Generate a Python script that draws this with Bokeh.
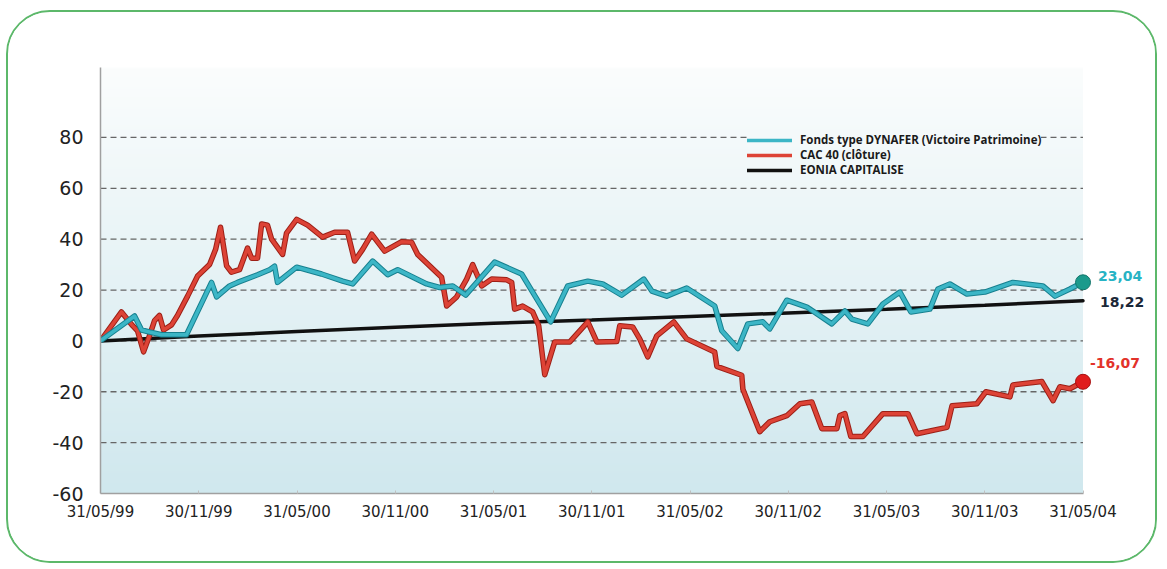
import numpy as np
from bokeh.plotting import figure
from bokeh.models import FixedTicker, Legend, LegendItem, Label, Range1d
from bokeh.embed import file_html
from bokeh.resources import INLINE

# ---- data (months since 31/05/99, values in %) ----
xtick_labels = ["31/05/99", "30/11/99", "31/05/00", "30/11/00", "31/05/01", "30/11/01",
                "31/05/02", "30/11/02", "31/05/03", "30/11/03", "31/05/04"]
xtick_pos = [0, 6, 12, 18, 24, 30, 36, 42, 48, 54, 60]
ytick_pos = [-60, -40, -20, 0, 20, 40, 60, 80]
ytick_labels = ["-60", "-40", "-20", "0", "20", "40", "60", "80"]
grid_pos = [-40, -20, 0, 20, 40, 60, 80]

dyn_x = [0.0, 2.08, 2.51, 2.99, 3.73, 5.25, 6.78, 7.09, 7.88, 8.37, 9.59, 10.33, 10.63, 10.81,
         11.98, 13.50, 14.79, 15.40, 16.62, 17.54, 18.15, 19.92, 20.71, 21.51, 22.30, 24.07,
         25.72, 26.39, 27.49, 28.53, 29.76, 30.67, 31.83, 33.18, 33.67, 34.58, 35.80, 37.51,
         37.94, 38.92, 39.53, 40.45, 40.87, 41.91, 43.14, 44.66, 45.46, 45.88, 46.86, 47.78,
         48.82, 49.49, 50.65, 51.14, 51.87, 52.91, 54.01, 55.72, 57.55, 58.29, 59.20, 60.0]
dyn_y = [0, 9.8, 4.3, 3.5, 2.4, 2.4, 23, 17.3, 21.6, 23, 26, 28, 29.4, 23,
         29, 26.3, 23.5, 22.4, 31.4, 26, 28, 22.4, 21, 21.6, 18, 31,
         26.3, 19.2, 7.5, 21.6, 23.5, 22.4, 18, 24.3, 19.6, 17.6, 20.8, 13.7,
         4, -3, 6.7, 7.5, 4.7, 16, 13.3, 6.7, 11.8, 8.6, 6.7, 14.5,
         19.2, 11.4, 12.5, 20.4, 22.4, 18.4, 19.2, 23, 21.6, 17.6, 20.4, 23.04]

cac_x = [0.0, 1.28, 1.96, 2.26, 2.63, 2.99, 3.30, 3.60, 3.85, 4.34, 4.70, 5.32, 5.93, 6.66,
         7.03, 7.33, 7.70, 8.00, 8.49, 8.98, 9.23, 9.59, 9.84, 10.20, 10.45, 11.12, 11.36,
         11.98, 12.65, 13.56, 14.30, 15.09, 15.52, 16.01, 16.56, 17.35, 18.39, 19.00, 19.37,
         20.83, 21.14, 21.75, 22.36, 22.73, 23.03, 23.28, 23.89, 24.81, 25.11, 25.29, 25.78,
         26.39, 26.76, 27.13, 27.74, 28.66, 29.76, 30.31, 31.53, 31.71, 32.50, 32.93, 33.42,
         33.97, 35.01, 35.80, 37.51, 37.64, 39.16, 39.23, 40.26, 40.87, 41.91, 42.71, 43.44,
         44.05, 44.97, 45.15, 45.46, 45.82, 46.56, 47.78, 49.31, 49.86, 51.69, 52.00, 53.52,
         54.07, 55.54, 55.72, 57.49, 58.17, 58.59, 59.20, 60.0]
cac_y = [0, 11.4, 6, 4, -4.3, 2, 8, 10, 4.3, 6.3, 10, 17.6, 25.5, 30,
         36, 44.7, 29.5, 27, 28, 36.5, 32.5, 32.5, 46, 45.5, 40, 34, 42.4,
         47.8, 45.5, 40.8, 42.7, 42.7, 31.4, 36, 42, 35.3, 39, 38.8, 34,
         25, 13.7, 17.3, 24.3, 30, 25.5, 21.6, 24.3, 24, 23, 12.5, 13.7,
         11.4, 6, -13.3, -0.4, -0.4, 7.5, -0.4, -0.2, 6, 5.5, 0.8, -6.3,
         2, 7.5, 0.8, -4.4, -10, -13.5, -19, -35.7, -31.8, -29.4, -24.7, -24,
         -34.5, -34.5, -29.4, -28.6, -37.6, -37.6, -28.6, -28.6, -36.5, -34, -25.5, -24.7,
         -20, -22, -17.3, -16, -23.5, -18, -18.8, -16.07]

eonia_x = [0, 6, 12, 18, 24, 30, 36, 42, 48, 54, 60]
eonia_y = [0, 1.9, 3.7, 5.4, 6.9, 8.2, 9.6, 11.0, 12.4, 14.0, 15.8]

series_names = ["Fonds type DYNAFER (Victoire Patrimoine)", "CAC 40 (clôture)", "EONIA CAPITALISE"]
end_labels = {"dyn": "23,04", "eonia": "18,22", "cac": "-16,07"}

TEAL = "#3cb6c6"
TEAL_DARK = "#17808f"
RED = "#dd4336"
RED_DARK = "#9c1f16"

p = figure(width=1151, height=553, output_backend="svg", toolbar_location=None,
           x_range=Range1d(0, 64), y_range=Range1d(-60, 107.5),
           min_border_left=92, min_border_right=11, min_border_top=55, min_border_bottom=72)
p.outline_line_color = None
p.border_fill_color = "white"
p.background_fill_color = "white"
p.xgrid.visible = False
p.ygrid.visible = False
p.styles = {"border": "2px solid #5cb86a", "border-radius": "44px", "overflow": "hidden",
            "box-sizing": "border-box", "margin": "10px 0 0 6px"}

# gradient background (style only)
n = 256
img = np.empty((n, 1), dtype=np.uint32)
view = img.view(dtype=np.uint8).reshape((n, 1, 4))
t = np.linspace(0, 1, n)  # 0 bottom -> 1 top
bottom = np.array([0xd0, 0xe8, 0xee])
top = np.array([0xfb, 0xfd, 0xfd])
for i in range(3):
    view[:, 0, i] = (bottom[i] + (top[i] - bottom[i]) * t).astype(np.uint8)
view[:, 0, 3] = 255
p.image_rgba(image=[img], x=0, y=-60, dw=60, dh=167.5)

# dashed grid lines
p.segment(x0=[0] * len(grid_pos), x1=[60] * len(grid_pos), y0=grid_pos, y1=grid_pos,
          line_color="#666666", line_dash="6 4", line_width=1.3)

# axes
p.xaxis.ticker = FixedTicker(ticks=xtick_pos)
p.xaxis.major_label_overrides = {k: v for k, v in zip(xtick_pos, xtick_labels)}
p.xaxis.bounds = (0, 60)
p.xaxis.axis_line_color = "#a0a0a0"
p.xaxis.axis_line_width = 1.5
p.xaxis.major_tick_in = 3
p.xaxis.major_tick_out = 0
p.xaxis.major_tick_line_color = "#c0c0c0"
p.xaxis.minor_tick_line_color = None
p.xaxis.major_label_text_font = "DejaVu Sans"
p.xaxis.major_label_text_font_size = "15px"
p.xaxis.major_label_text_color = "#222222"
p.xaxis.major_label_standoff = 9

p.yaxis.ticker = FixedTicker(ticks=ytick_pos)
p.yaxis.major_label_overrides = {k: v for k, v in zip(ytick_pos, ytick_labels)}
p.yaxis.bounds = (-60, 107.5)
p.yaxis.axis_line_color = "#a0a0a0"
p.yaxis.axis_line_width = 1.5
p.yaxis.major_tick_line_color = None
p.yaxis.minor_tick_line_color = None
p.yaxis.major_label_text_font = "DejaVu Sans"
p.yaxis.major_label_text_font_size = "19px"
p.yaxis.major_label_text_color = "#222222"
p.yaxis.major_label_standoff = 11

# series
r_eo = p.line(eonia_x, eonia_y, line_color="#111111", line_width=3.5, line_cap="round")
p.line(cac_x, cac_y, line_color=RED_DARK, line_width=5.5, line_join="round")
r_cac = p.line(cac_x, cac_y, line_color=RED, line_width=3.5, line_join="round", line_cap="round")
p.line(dyn_x, dyn_y, line_color=TEAL_DARK, line_width=5.5, line_join="round")
r_dyn = p.line(dyn_x, dyn_y, line_color=TEAL, line_width=3.5, line_join="round", line_cap="round")

p.scatter([dyn_x[-1]], [dyn_y[-1]], size=15, fill_color="#1a9a8c", line_color="#11756a")
p.scatter([cac_x[-1]], [cac_y[-1]], size=15, fill_color="#e01c1c", line_color="#a81010")

# end labels
for txt, yv, xoff, yoff, col in [(end_labels["dyn"], dyn_y[-1], 15, 6, "#27b3c4"),
                                 (end_labels["eonia"], eonia_y[-1], 17, -1, "#1b2838"),
                                 (end_labels["cac"], cac_y[-1], 7, 19, "#e2322a")]:
    p.add_layout(Label(x=60, y=yv, x_offset=xoff, y_offset=yoff, text=txt,
                       text_font="DejaVu Sans", text_font_style="bold", text_font_size="14px",
                       text_color=col, text_baseline="middle"))

# legend: one row per Legend so the row spacing can be set freely;
# only the first row gets a background (it hides the 80 grid line like the original)
for k, (name, rend, ypos) in enumerate(zip(series_names, [r_dyn, r_cac, r_eo], [346, 331, 316])):
    lg = Legend(items=[LegendItem(label=name, renderers=[rend])],
                location=(647, ypos), orientation="vertical",
                background_fill_color="#f4f9fa", background_fill_alpha=1 if k == 0 else 0,
                border_line_color=None, padding=1, margin=0, spacing=0,
                glyph_width=45, glyph_height=10, label_height=10, label_standoff=8,
                label_text_font="Open Sans", label_text_font_style="bold",
                label_text_font_size="11.5px", label_text_color="#1a1a1a")
    p.add_layout(lg)

html = file_html(p, INLINE)
html = html.replace("<body>", '<body style="background-color:#f1f6f1;">', 1)
open("out.html", "w").write(html)
